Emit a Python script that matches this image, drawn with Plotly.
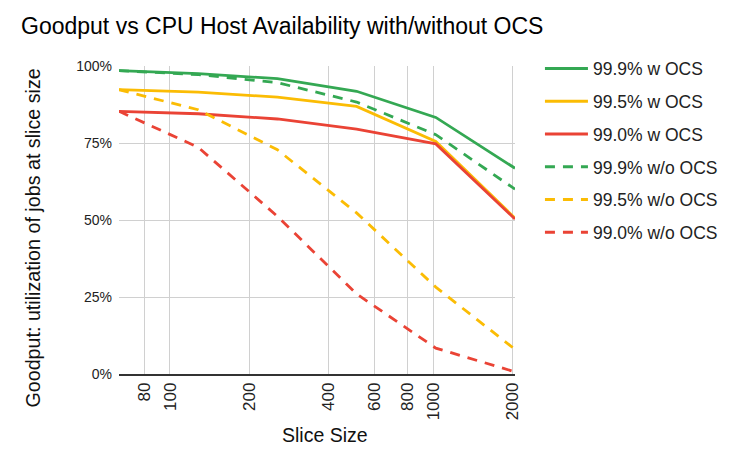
import plotly.graph_objects as go

slice_size = [64, 128, 256, 512, 1024, 2048]

w_ocs_999 = [98.5, 97.5, 95.9, 91.8, 83.3, 66.8]
w_ocs_995 = [92.3, 91.5, 89.9, 86.9, 75.5, 50.6]
w_ocs_990 = [85.3, 84.5, 82.8, 79.5, 74.7, 50.3]
wo_ocs_999 = [98.5, 97.2, 94.6, 88.3, 77.7, 60.0]
wo_ocs_995 = [92.3, 85.8, 72.8, 52.3, 28.2, 8.0]
wo_ocs_990 = [85.3, 73.6, 51.2, 26.0, 8.4, 0.7]

series_names = ["99.9% w OCS", "99.5% w OCS", "99.0% w OCS",
                "99.9% w/o OCS", "99.5% w/o OCS", "99.0% w/o OCS"]
series_values = [w_ocs_999, w_ocs_995, w_ocs_990,
                 wo_ocs_999, wo_ocs_995, wo_ocs_990]

x_ticks = [80, 100, 200, 400, 600, 800, 1000, 2000]
y_ticks = [0, 25, 50, 75, 100]
y_labels = ["0%", "25%", "50%", "75%", "100%"]

colors = ["#34a853", "#fbbc04", "#ea4335"] * 2
dashes = ["solid"] * 3 + ["10px,8px"] * 3

fig = go.Figure()
for i in range(len(series_names)):
    fig.add_trace(go.Scatter(
        x=slice_size,
        y=series_values[i],
        name=series_names[i],
        mode="lines",
        legendgroup=str(i),
        line=dict(color=colors[i], width=2.8, dash=dashes[i])
    ))

# page body has an 8px margin, so the figure is 8px smaller than the window
fig.update_layout(
    width=732, height=450,
    margin=dict(l=111, r=225, t=58, b=84),
    paper_bgcolor="white", plot_bgcolor="white",
    font=dict(family="Liberation Sans, Arial, sans-serif", color="#222", size=14),
    title=dict(text="Goodput vs CPU Host Availability with/without OCS",
               font=dict(size=23, color="#000"),
               xref="container", yref="container",
               x=13/732, xanchor="left", y=1-18/450, yanchor="middle"),
    legend=dict(x=1.063, xanchor="left", y=1.05, yanchor="top",
                font=dict(size=17.5, color="#222"), tracegroupgap=7,
                itemwidth=43),
    showlegend=True,
    annotations=[
        dict(text="Goodput: utilization of jobs at slice size", textangle=-90,
             xref="paper", yref="paper", x=-0.217, y=0.44,
             xanchor="center", yanchor="middle", showarrow=False,
             font=dict(size=19.7, color="#111")),
        dict(text="Slice Size",
             xref="paper", yref="paper", x=0.521, y=-0.198,
             xanchor="center", yanchor="middle", showarrow=False,
             font=dict(size=19.5, color="#111")),
    ],
)
fig.update_xaxes(
    type="log", range=[1.80618, 3.31133],
    tickvals=x_ticks, ticktext=[str(t) for t in x_ticks],
    tickangle=-90, tickfont=dict(size=17, color="#222"),
    showgrid=True, gridcolor="#d0d0d0", gridwidth=1,
    showline=True, linecolor="#333", linewidth=1.5,
    ticks="", automargin=False,
)
fig.update_yaxes(
    range=[0, 100], tickvals=y_ticks, ticktext=y_labels,
    tickfont=dict(size=14, color="#222"), ticklabelstandoff=6,
    showgrid=True, gridcolor="#d0d0d0", gridwidth=1, zeroline=False,
    ticks="", automargin=False,
)

fig.write_html("out.html")
